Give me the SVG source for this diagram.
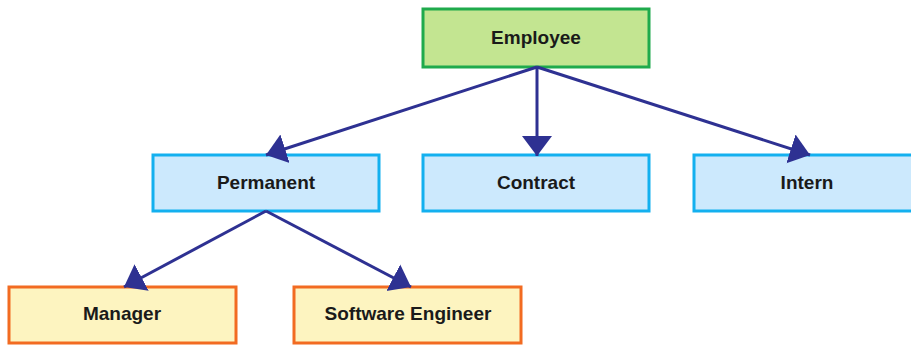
<svg xmlns="http://www.w3.org/2000/svg" width="911" height="348" viewBox="0 0 911 348">
<style>
.box{stroke-width:3}
.g{fill:#c3e591;stroke:#1faa4c}
.b{fill:#cce9fd;stroke:#13b0ef}
.y{fill:#fdf4c0;stroke:#f26b21}
text{font-family:"Liberation Sans",Arial,sans-serif;font-weight:bold;font-size:19px;fill:#1a1a1a;text-anchor:middle}
.conn line{stroke:#2e3192;stroke-width:3;fill:none}
</style>
<defs>
<marker id="ah" markerUnits="userSpaceOnUse" markerWidth="22" markerHeight="32" viewBox="0 0 22 32" refX="20" refY="16" orient="auto">
<path d="M0,1 L20,16 L0,31 Z" fill="#2e3192"/>
</marker>
</defs>
<g id="employee"><rect class="box g" x="423" y="9" width="226" height="58"/><text x="536" y="44">Employee</text></g>
<g id="permanent"><rect class="box b" x="153" y="155" width="226" height="56"/><text x="266" y="189">Permanent</text></g>
<g id="contract"><rect class="box b" x="423" y="155" width="226" height="56"/><text x="536" y="189">Contract</text></g>
<g id="intern"><rect class="box b" x="694" y="155" width="226" height="56"/><text x="807" y="189">Intern</text></g>
<g id="manager"><rect class="box y" x="9" y="287" width="227" height="56"/><text x="122" y="320">Manager</text></g>
<g id="software-engineer"><rect class="box y" x="294" y="287" width="227" height="56"/><text x="408" y="320">Software Engineer</text></g>
<g class="conn" id="connectors">
<line x1="537" y1="67" x2="266" y2="155" marker-end="url(#ah)"/>
<line x1="537" y1="67" x2="537" y2="156" marker-end="url(#ah)"/>
<line x1="537" y1="67" x2="810" y2="155" marker-end="url(#ah)"/>
<line x1="266" y1="211" x2="124" y2="287" marker-end="url(#ah)"/>
<line x1="266" y1="211" x2="411" y2="287" marker-end="url(#ah)"/>
</g>
</svg>
